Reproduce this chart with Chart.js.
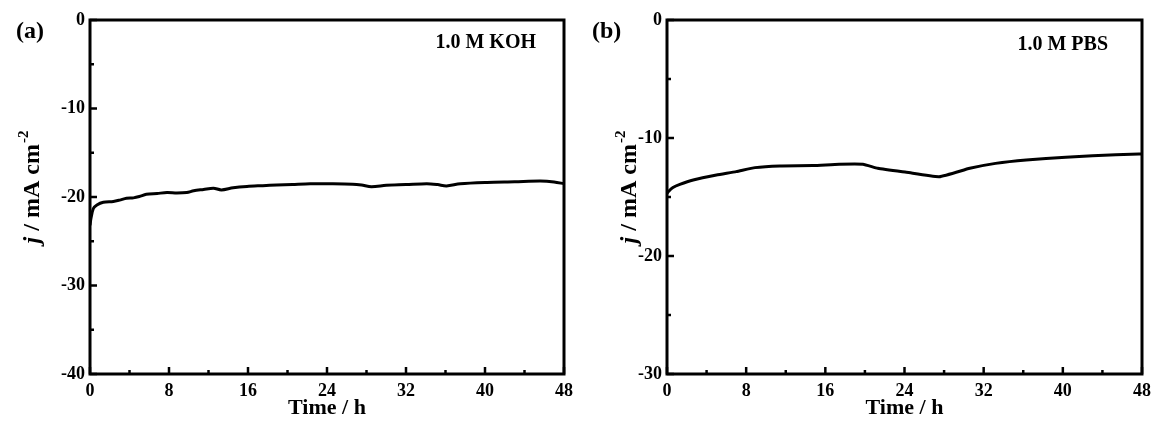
<!DOCTYPE html>
<html>
<head>
<meta charset="utf-8">
<script src="https://cdn.jsdelivr.net/npm/chart.js@4.4.1/dist/chart.umd.min.js"></script>
<style>
  html, body { margin: 0; padding: 0; background: #fff; }
  #wrap { position: relative; width: 1158px; height: 423px; overflow: hidden; }
  .panel { position: absolute; top: 0; height: 423px; }
  #pa { left: 0; width: 580px; }
  #pb { left: 580px; width: 578px; }
</style>
</head>
<body>
<div id="wrap">
  <div class="panel" id="pa"><canvas id="ca"></canvas></div>
  <div class="panel" id="pb"><canvas id="cb"></canvas></div>
</div>
<script>
// ---- Data ----
const timeKOH = [0, 0.1, 0.34, 0.7, 1.35, 2.36, 3.0, 3.7, 4.4, 5.0, 5.7, 6.8, 7.8, 8.8, 9.8, 10.5, 11.5, 12.5, 13.3, 14.5, 15.9, 17.5, 18.9, 20.5, 22.3, 24.6, 26.6, 27.5, 28.5, 30.0, 32.0, 34.1, 35.2, 36.1, 37.5, 40.2, 43.0, 45.6, 47.0, 48.0];
const currentKOH = [-23.2, -22.4, -21.3, -20.9, -20.6, -20.5, -20.35, -20.15, -20.1, -19.95, -19.7, -19.6, -19.5, -19.55, -19.5, -19.3, -19.15, -19.0, -19.2, -18.95, -18.8, -18.72, -18.65, -18.58, -18.5, -18.5, -18.55, -18.65, -18.83, -18.68, -18.6, -18.5, -18.6, -18.75, -18.5, -18.35, -18.28, -18.2, -18.3, -18.5];

const timePBS = [0, 0.13, 0.6, 1.3, 2.65, 5.0, 7.0, 8.9, 11.4, 14.75, 17.4, 19.8, 21.3, 24.2, 27.5, 30.6, 33.2, 36.3, 40.3, 43.0, 47.7, 48.0];
const currentPBS = [-14.7, -14.55, -14.2, -13.93, -13.56, -13.14, -12.85, -12.51, -12.37, -12.34, -12.23, -12.23, -12.57, -12.91, -13.28, -12.57, -12.15, -11.86, -11.64, -11.5, -11.36, -11.35];

const xTicks = [0, 8, 16, 24, 32, 40, 48];
const yTicksKOH = [0, -10, -20, -30, -40];
const yTicksPBS = [0, -10, -20, -30];

const panelLabels = ['(a)', '(b)'];
const electrolytes = ['1.0 M KOH', '1.0 M PBS'];
const xTitle = 'Time / h';
const yTitleParts = ['j', ' / mA cm', '-2'];

// ---- Helpers ----
const FONT = '"Liberation Serif", "Times New Roman", serif';

const framePlugin = {
  id: 'frame',
  afterDatasetsDraw(chart, args, o) {
    const { ctx, chartArea: a, scales: { x, y } } = chart;
    ctx.save();
    ctx.strokeStyle = '#000';
    ctx.lineCap = 'butt';
    // frame
    ctx.lineWidth = 3;
    ctx.strokeRect(a.left, a.top, a.right - a.left, a.bottom - a.top);
    // ticks (inward)
    ctx.lineWidth = 2.5;
    const xt = x.ticks.map(t => t.value);
    const yt = y.ticks.map(t => t.value);
    const drawX = (v, len) => {
      const px = x.getPixelForValue(v);
      ctx.beginPath(); ctx.moveTo(px, a.bottom); ctx.lineTo(px, a.bottom - len); ctx.stroke();
    };
    const drawY = (v, len) => {
      const py = y.getPixelForValue(v);
      ctx.beginPath(); ctx.moveTo(a.left, py); ctx.lineTo(a.left + len, py); ctx.stroke();
    };
    xt.forEach(v => drawX(v, 7));
    yt.forEach(v => drawY(v, 7));
    for (let i = 0; i < xt.length - 1; i++) drawX((xt[i] + xt[i + 1]) / 2, 4);
    for (let i = 0; i < yt.length - 1; i++) drawY((yt[i] + yt[i + 1]) / 2, 4);

    // panel label
    ctx.fillStyle = '#000';
    ctx.font = 'bold 24px ' + FONT;
    ctx.textAlign = 'left';
    ctx.textBaseline = 'middle';
    ctx.fillText(o.panel, o.panelX, o.panelY);

    // electrolyte note
    ctx.font = 'bold 20px ' + FONT;
    ctx.textAlign = 'right';
    ctx.fillText(o.note, o.noteX, o.noteY);

    // y title with italic j and superscript
    ctx.translate(o.yTitleX, o.yTitleY);
    ctx.rotate(-Math.PI / 2);
    const f1 = 'italic bold 24px ' + FONT;
    const f2 = 'bold 24px ' + FONT;
    const f3 = 'bold 15px ' + FONT;
    ctx.font = f1; const w1 = ctx.measureText(yTitleParts[0]).width;
    ctx.font = f2; const w2 = ctx.measureText(yTitleParts[1]).width;
    ctx.font = f3; const w3 = ctx.measureText(yTitleParts[2]).width;
    let sx = -(w1 + w2 + w3 + 1) / 2;
    ctx.textAlign = 'left';
    ctx.textBaseline = 'alphabetic';
    ctx.font = f1; ctx.fillText(yTitleParts[0], sx, 8); sx += w1;
    ctx.font = f2; ctx.fillText(yTitleParts[1], sx, 8); sx += w2 + 1;
    ctx.font = f3; ctx.fillText(yTitleParts[2], sx, -3);
    ctx.restore();
  }
};

function makeChart(canvasId, times, values, yMin, yTicks, opts) {
  const pts = times.map((t, i) => ({ x: t, y: values[i] }));
  return new Chart(document.getElementById(canvasId), {
    type: 'line',
    data: {
      datasets: [{
        data: pts,
        borderColor: '#000',
        borderWidth: 3,
        pointRadius: 0,
        tension: opts.tension,
        fill: false
      }]
    },
    options: {
      responsive: true,
      maintainAspectRatio: false,
      animation: false,
      events: [],
      layout: { padding: { left: 0, top: 20, right: opts.padRight, bottom: 0 } },
      plugins: {
        legend: { display: false },
        tooltip: { enabled: false },
        frame: opts.frame
      },
      scales: {
        x: {
          type: 'linear',
          min: 0, max: 48,
          afterBuildTicks: s => { s.ticks = xTicks.map(v => ({ value: v })); },
          grid: { display: false, drawTicks: false },
          border: { display: false },
          ticks: {
            color: '#000',
            padding: 7,
            maxRotation: 0,
            font: { family: FONT, size: 18, weight: 'bold' }
          },
          title: {
            display: true,
            text: xTitle,
            color: '#000',
            padding: { top: 0, bottom: 1 },
            font: { family: FONT, size: 22, weight: 'bold' }
          },
          afterFit: s => { s.height = 49; }
        },
        y: {
          type: 'linear',
          min: yMin, max: 0,
          afterBuildTicks: s => { s.ticks = yTicks.slice().reverse().map(v => ({ value: v })); },
          grid: { display: false, drawTicks: false },
          border: { display: false },
          ticks: {
            color: '#000',
            padding: 5,
            font: { family: FONT, size: 18, weight: 'bold' }
          },
          afterFit: s => { s.width = opts.yWidth; }
        }
      }
    },
    plugins: [framePlugin]
  });
}

makeChart('ca', timeKOH, currentKOH, -40, yTicksKOH, {
  padRight: 14,
  yWidth: 90,
  tension: 0.3,
  frame: { panel: panelLabels[0], panelX: 16, panelY: 32, note: electrolytes[0], noteX: 536, noteY: 43, yTitleX: 31, yTitleY: 187 }
});
makeChart('cb', timePBS, currentPBS, -30, yTicksPBS, {
  padRight: 15,
  yWidth: 87,
  tension: 0.15,
  frame: { panel: panelLabels[1], panelX: 12, panelY: 32, note: electrolytes[1], noteX: 528, noteY: 45, yTitleX: 48, yTitleY: 187 }
});
</script>
</body>
</html>
